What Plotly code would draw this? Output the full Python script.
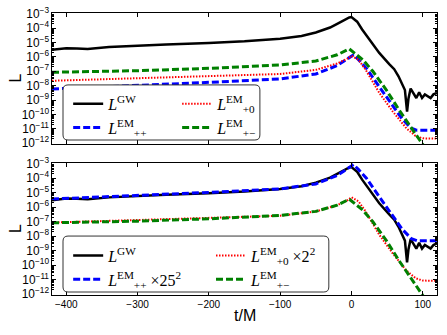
import plotly.graph_objects as go

# luminosities (t/M vs L)
t_gw = [-420, -400, -385, -370, -340, -300, -260, -200, -150, -100, -70, -50,
        -30, -20, -10, -3, 0, 3, 8, 15, 25, 39, 53, 60, 66, 70, 73, 75, 78,
        80, 83, 87, 91, 95, 99, 103, 107, 111, 115, 120]
L_gw = [3.1e-6, 4.0e-6, 3.8e-6, 3.5e-6, 4.8e-6, 6.2e-6, 7.2e-6, 9.1e-6,
        1.2e-5, 1.8e-5, 2.8e-5, 5.0e-5, 1.1e-4, 2.0e-4, 3.7e-4, 5.5e-4,
        5.9e-4, 4.7e-4, 2.8e-4, 8.0e-5, 1.6e-5, 1.9e-6, 3.2e-7, 1.4e-7,
        4.5e-8, 1.8e-8, 1.0e-8, 5.0e-9, 1.6e-10, 1.3e-9, 6.3e-9, 2.8e-9,
        1.4e-9, 3.5e-9, 1.4e-9, 2.5e-9, 1.8e-9, 1.4e-9, 2.5e-9, 3.2e-9]

t_pp = [-420, -300, -200, -100, -50, -20, -5, 3, 10, 21, 39, 58, 71, 84, 92, 120]
L_pp = [5.9e-9, 1.0e-8, 1.7e-8, 2.95e-8, 6.5e-8, 2.5e-7, 7.9e-7, 1.4e-6,
        6.3e-7, 1.6e-7, 8.5e-9, 4.5e-10, 5.0e-11, 1.1e-11, 7.9e-12, 7.9e-12]

t_p0 = [-420, -300, -200, -100, -50, -20, -5, 0, 10, 20, 39, 58, 77, 90, 100, 120]
L_p0 = [2.2e-8, 3.2e-8, 4.7e-8, 6.5e-8, 1.26e-7, 3.5e-7, 7.9e-7, 1.2e-6,
        6.3e-7, 1.26e-7, 3.2e-9, 1.6e-10, 1.1e-11, 3.2e-12, 2.2e-12, 2.1e-12]

t_pm = [-420, -300, -200, -100, -50, -20, -3, 11, 16, 30, 49, 67, 84, 98, 110]
L_pm = [8.5e-8, 1.1e-7, 1.6e-7, 2.75e-7, 5.2e-7, 1.4e-6, 3.6e-6, 1.05e-6,
        6.3e-7, 1.0e-7, 5.0e-9, 2.0e-10, 1.1e-11, 1.0e-12, 1.6e-13]

# rescaling used in the lower panel
SCALE_PP = 25 ** 2
SCALE_P0 = 2 ** 2

LBL_GW = "<i>L</i><sup>GW</sup>"
LBL_PP = "<i>L</i><sup>EM</sup><sub>++</sub>"
LBL_P0 = "<i>L</i><sup>EM</sup><sub>+0</sub>"
LBL_PM = "<i>L</i><sup>EM</sup><sub>+−</sub>"

styles = {
    "gw": dict(color="black", width=2.5),
    "pp": dict(color="#0000ff", width=3, dash="7px,3px"),
    "p0": dict(color="#ff0000", width=2, dash="1.5px,1.5px"),
    "pm": dict(color="#008000", width=3, dash="7px,3px"),
}

fig = go.Figure()

# top panel
fig.add_trace(go.Scatter(x=t_gw, y=L_gw, mode="lines", line=styles["gw"],
                         name=LBL_GW, legend="legend", xaxis="x", yaxis="y"))
fig.add_trace(go.Scatter(x=t_pp, y=L_pp, mode="lines", line=styles["pp"],
                         name=LBL_PP, legend="legend", xaxis="x", yaxis="y"))
fig.add_trace(go.Scatter(x=t_p0, y=L_p0, mode="lines", line=styles["p0"],
                         name=LBL_P0, legend="legend2", xaxis="x", yaxis="y"))
fig.add_trace(go.Scatter(x=t_pm, y=L_pm, mode="lines", line=styles["pm"],
                         name=LBL_PM, legend="legend2", xaxis="x", yaxis="y"))

# bottom panel (scaled)
fig.add_trace(go.Scatter(x=t_gw, y=L_gw, mode="lines", line=styles["gw"],
                         name=LBL_GW, legend="legend3", xaxis="x2", yaxis="y2"))
fig.add_trace(go.Scatter(x=t_pp, y=[v * SCALE_PP for v in L_pp], mode="lines",
                         line=styles["pp"], name=LBL_PP + " ×25<sup>2</sup>",
                         legend="legend3", xaxis="x2", yaxis="y2"))
fig.add_trace(go.Scatter(x=t_p0, y=[v * SCALE_P0 for v in L_p0], mode="lines",
                         line=styles["p0"], name=LBL_P0 + " ×2<sup>2</sup>",
                         legend="legend4", xaxis="x2", yaxis="y2"))
fig.add_trace(go.Scatter(x=t_pm, y=L_pm, mode="lines", line=styles["pm"],
                         name=LBL_PM, legend="legend4", xaxis="x2", yaxis="y2"))

axis_common = dict(
    showline=True, linecolor="black", linewidth=1.2, mirror="ticks",
    ticks="inside", ticklen=4, tickcolor="black", showgrid=False,
    zeroline=False, automargin=False,
    tickfont=dict(family="Liberation Sans", size=10, color="black"),
)
xa = dict(axis_common, range=[-420, 120], tickvals=[-400, -300, -200, -100, 0, 100])
ya = dict(axis_common, type="log", range=[-12.05, -2.95], dtick=1,
          exponentformat="power",
          tickfont=dict(family="Liberation Sans", size=9.5, color="black"),
          minor=dict(ticks="inside", ticklen=2, tickcolor="black", showgrid=False))

leg_common = dict(bgcolor="rgba(0,0,0,0)", borderwidth=0, orientation="v",
                  xanchor="left", yanchor="top", tracegroupgap=0,
                  font=dict(family="Liberation Serif", size=16, color="black"))

title_font = dict(family="Liberation Sans", size=16, color="black")
title_common = dict(xref="paper", yref="paper", showarrow=False, font=title_font,
                    xanchor="center", yanchor="middle")


def rounded_box(x0, x1, y0, y1, r=5):
    rx, ry = r / 385, r / 282
    return (f"M {x0 + rx},{y0} L {x1 - rx},{y0} Q {x1},{y0} {x1},{y0 + ry} "
            f"L {x1},{y1 - ry} Q {x1},{y1} {x1 - rx},{y1} L {x0 + rx},{y1} "
            f"Q {x0},{y1} {x0},{y1 - ry} L {x0},{y0 + ry} Q {x0},{y0} {x0 + rx},{y0} Z")


fig.update_layout(
    width=447, height=335,
    margin=dict(l=52, r=10, t=13, b=40, autoexpand=False),
    plot_bgcolor="white", paper_bgcolor="white",
    xaxis=dict(xa, domain=[0, 1], anchor="y", showticklabels=False),
    yaxis=dict(ya, domain=[0.5355, 1], anchor="x"),
    xaxis2=dict(xa, domain=[0, 1], anchor="y2"),
    yaxis2=dict(ya, domain=[0, 0.468], anchor="x2"),
    legend=dict(leg_common, x=0.042, y=0.738),
    legend2=dict(leg_common, x=0.325, y=0.738),
    legend3=dict(leg_common, x=0.042, y=0.200),
    legend4=dict(leg_common, x=0.413, y=0.200),
    annotations=[
        dict(title_common, text="L", x=-0.096, y=0.768, textangle=-90),
        dict(title_common, text="L", x=-0.096, y=0.234, textangle=-90),
        dict(title_common, text="t/M", x=0.501, y=-0.071),
    ],
    shapes=[
        dict(type="path", xref="paper", yref="paper", layer="above",
             path=rounded_box(0.0286, 0.540, 0.5496, 0.745),
             fillcolor="white", line=dict(color="#333333", width=1)),
        dict(type="path", xref="paper", yref="paper", layer="above",
             path=rounded_box(0.0286, 0.719, 0.0106, 0.209),
             fillcolor="white", line=dict(color="#333333", width=1)),
    ],
)

# drop the browser's default page margin so the figure fills the window
fig.write_html("out.html", config={"displayModeBar": False},
               post_script="document.body.style.margin='0';")
